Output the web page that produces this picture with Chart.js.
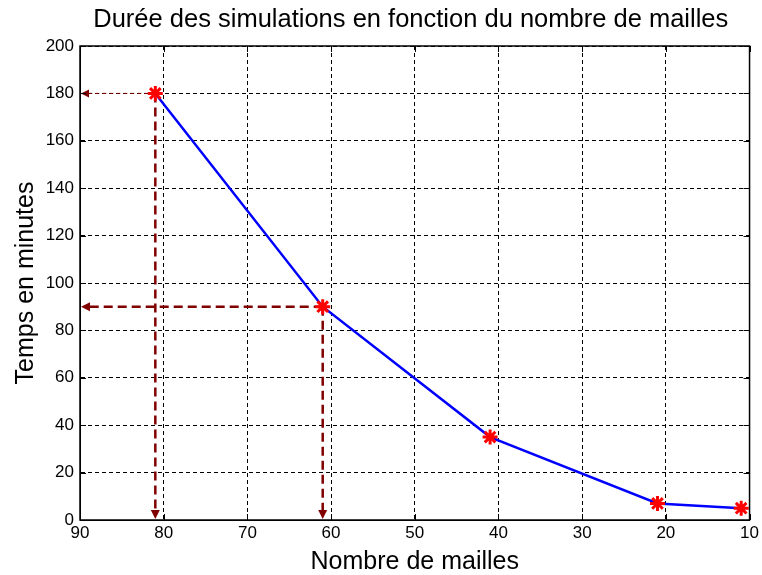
<!DOCTYPE html>
<html>
<head>
<meta charset="utf-8">
<script src="https://cdn.jsdelivr.net/npm/chart.js@4.4.1/dist/chart.umd.min.js"></script>
<style>
    html, body { margin: 0; padding: 0; background: #ffffff; }
    canvas { display: block; }
</style>
</head>
<body>
<canvas id="graficoMailles" width="762" height="575"></canvas>
<script>
// Données
let nombreMailles = [81, 61, 41, 21, 11];
let tempsMinutes = [180, 90, 35, 7, 5];
let ticksX = [90, 80, 70, 60, 50, 40, 30, 20, 10];
let ticksY = [0, 20, 40, 60, 80, 100, 120, 140, 160, 180, 200];
// Points repérés par les flèches pointillées
let flechesX = [81, 61];
let flechesY = [180, 90];
let titre = 'Durée des simulations en fonction du nombre de mailles';

let police = "'Liberation Sans', Arial, Helvetica, sans-serif";
let rougeFonce = '#800000';

// Dessine une flèche pointillée entre deux points (en pixels)
function fleche(ctx, x1, y1, x2, y2, largeur, tirets, tete) {
    let ang = Math.atan2(y2 - y1, x2 - x1);
    let c = Math.cos(ang);
    let s = Math.sin(ang);
    let L = tete;
    let W = tete * 0.5;
    ctx.save();
    ctx.strokeStyle = rougeFonce;
    ctx.fillStyle = rougeFonce;
    ctx.lineWidth = largeur;
    ctx.setLineDash(tirets);
    ctx.beginPath();
    ctx.moveTo(x1, y1);
    ctx.lineTo(x2 - L * c, y2 - L * s);
    ctx.stroke();
    ctx.setLineDash([]);
    ctx.beginPath();
    ctx.moveTo(x2, y2);
    ctx.lineTo(x2 - L * c + W * s, y2 - L * s - W * c);
    ctx.lineTo(x2 - L * c - W * s, y2 - L * s + W * c);
    ctx.closePath();
    ctx.fill();
    ctx.restore();
}

// Flèches vers les axes
let pluginFleches = {
    id: 'fleches',
    beforeDatasetsDraw: function(chart) {
        let ctx = chart.ctx;
        let sx = chart.scales.x;
        let sy = chart.scales.y;
        for (let i = 0; i < flechesX.length; i++) {
            let px = sx.getPixelForValue(flechesX[i]);
            let py = sy.getPixelForValue(flechesY[i]);
            let xAxe = sx.getPixelForValue(90) + 1;
            let yAxe = sy.getPixelForValue(0) - 1;
            if (i === 0) {
                fleche(ctx, px, py, xAxe, py, 1, [4, 3], 8);
            } else {
                fleche(ctx, px, py, xAxe, py, 2.5, [9, 5], 9);
            }
            fleche(ctx, px, py, px, yAxe, 2.5, [9, 5], 9);
        }
    }
};

// Cadre noir, petites graduations intérieures et titre centré sur les axes
let pluginCadre = {
    id: 'cadre',
    afterDraw: function(chart) {
        let ctx = chart.ctx;
        let a = chart.chartArea;
        let sx = chart.scales.x;
        let sy = chart.scales.y;
        ctx.save();
        ctx.strokeStyle = '#000000';
        ctx.lineWidth = 1.5;
        ctx.setLineDash([]);
        ctx.strokeRect(a.left, a.top, a.right - a.left, a.bottom - a.top);
        ctx.lineWidth = 1;
        ctx.beginPath();
        for (let i = 0; i < ticksX.length; i++) {
            let x = Math.round(sx.getPixelForValue(ticksX[i])) + 0.5;
            ctx.moveTo(x, a.bottom); ctx.lineTo(x, a.bottom - 6);
            ctx.moveTo(x, a.top); ctx.lineTo(x, a.top + 6);
        }
        for (let i = 0; i < ticksY.length; i++) {
            let y = Math.round(sy.getPixelForValue(ticksY[i])) + 0.5;
            ctx.moveTo(a.left, y); ctx.lineTo(a.left + 6, y);
            ctx.moveTo(a.right, y); ctx.lineTo(a.right - 6, y);
        }
        ctx.stroke();

        // Titre
        ctx.fillStyle = '#000000';
        ctx.font = '25.5px ' + police;
        ctx.textAlign = 'center';
        ctx.textBaseline = 'middle';
        ctx.fillText(titre, (a.left + a.right) / 2 - 4, 20);
        ctx.restore();
    }
};

let points = [];
for (let i = 0; i < nombreMailles.length; i++) {
    points.push({ x: nombreMailles[i], y: tempsMinutes[i] });
}

let ctx = document.getElementById('graficoMailles').getContext('2d');
let miGrafico = new Chart(ctx, {
    type: 'scatter',
    data: {
        datasets: [{
            data: points,
            showLine: true,
            borderColor: '#0000ff',
            borderWidth: 2.5,
            tension: 0,
            pointStyle: 'star',
            pointRadius: 7.5,
            pointBorderColor: '#ff0000',
            pointBackgroundColor: '#ff0000',
            pointBorderWidth: 3
        }]
    },
    options: {
        responsive: false,
        animation: false,
        devicePixelRatio: 1,
        layout: { padding: { left: 0, right: 10, top: 46, bottom: 0 } },
        plugins: {
            legend: { display: false },
            tooltip: { enabled: false },
            title: { display: false }
        },
        scales: {
            x: {
                type: 'linear',
                reverse: true,
                min: 10,
                max: 90,
                afterBuildTicks: function(scale) {
                    scale.ticks = ticksX.map(function(v) { return { value: v }; });
                },
                afterFit: function(scale) { scale.height = 55; },
                ticks: { color: '#000000', font: { family: police, size: 17 }, padding: 3, maxRotation: 0 },
                grid: { color: '#000000', lineWidth: 1, drawTicks: false },
                border: { display: true, color: '#000000', width: 1, dash: [4, 3] },
                title: {
                    display: true,
                    text: 'Nombre de mailles',
                    color: '#000000',
                    font: { family: police, size: 25, lineHeight: 1 },
                    padding: { top: 0, bottom: 0 }
                }
            },
            y: {
                type: 'linear',
                min: 0,
                max: 200,
                afterBuildTicks: function(scale) {
                    scale.ticks = ticksY.map(function(v) { return { value: v }; });
                },
                afterFit: function(scale) { scale.width = 80; },
                ticks: { color: '#000000', font: { family: police, size: 17 }, padding: 6 },
                grid: { color: '#000000', lineWidth: 1, drawTicks: false },
                border: { display: true, color: '#000000', width: 1, dash: [4, 3] },
                title: {
                    display: true,
                    text: 'Temps en minutes',
                    color: '#000000',
                    font: { family: police, size: 25, lineHeight: 1 },
                    padding: { top: 14, bottom: 0 }
                }
            }
        }
    },
    plugins: [pluginFleches, pluginCadre]
});
</script>
</body>
</html>
